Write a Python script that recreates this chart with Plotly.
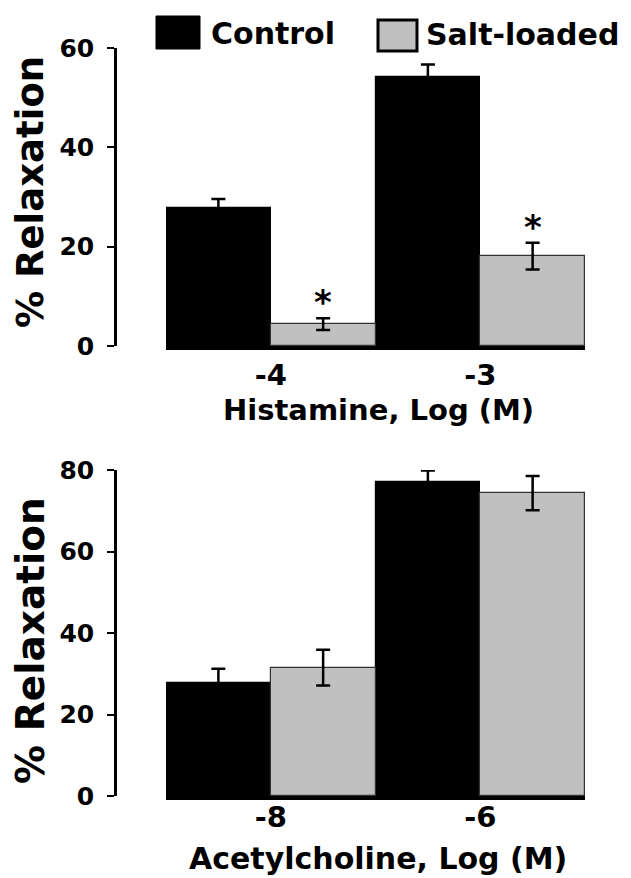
import plotly.graph_objects as go

W, H = 631, 878          # target picture size
OFF = 8                  # page body margin offset
FW, FH = W - OFF, H - OFF
FONT = "DejaVu Sans"

# ---- data ----
groups = ["Control", "Salt-loaded"]
hist_doses = ["-4", "-3"]
hist_control = [27.8, 54.1]
hist_control_err = [1.8, 2.6]
hist_salt = [4.4, 18.1]
hist_salt_err = [1.2, 2.7]
hist_sig = [True, True]

ach_doses = ["-8", "-6"]
ach_control = [27.8, 77.0]
ach_control_err = [3.4, 2.9]
ach_salt = [31.5, 74.3]
ach_salt_err = [4.4, 4.2]

colors = {"Control": "#000000", "Salt-loaded": "#C0C0C0"}
lines = {"Control": "#000000", "Salt-loaded": "#333333"}


def px(x):
    return (x - OFF) / FW


def py(y):
    return 1 - (y - OFF) / FH


def fnt(size):
    return dict(family=FONT, size=size, color="#000000", weight="bold")


fig = go.Figure()


def add_pair(doses, ctrl, ctrl_err, salt, salt_err, xa, ya):
    for name, vals, errs in [("Control", ctrl, ctrl_err), ("Salt-loaded", salt, salt_err)]:
        fig.add_trace(go.Bar(
            x=doses, y=vals, name=name, xaxis=xa, yaxis=ya, showlegend=False,
            marker=dict(color=colors[name], line=dict(color=lines[name], width=1.2)),
            error_y=dict(type="data", array=errs, color="#000000", thickness=2.5, width=7),
        ))


add_pair(hist_doses, hist_control, hist_control_err, hist_salt, hist_salt_err, "x", "y")
add_pair(ach_doses, ach_control, ach_control_err, ach_salt, ach_salt_err, "x2", "y2")

xcommon = dict(type="category", range=[-0.5, 1.5], showline=True, linecolor="#000000",
               linewidth=3.5, ticks="", showgrid=False, zeroline=False, tickfont=fnt(29),
               automargin=False)
ycommon = dict(showline=True, linecolor="#000000", linewidth=2.5, ticks="outside",
               ticklen=7, tickwidth=2, tickcolor="#000000", showgrid=False, zeroline=False,
               tickfont=fnt(25), anchor="free", position=px(115), ticklabelstandoff=8,
               automargin=False)

fig.update_layout(
    width=FW, height=FH, margin=dict(l=0, r=0, t=0, b=0, autoexpand=False),
    paper_bgcolor="white", plot_bgcolor="white",
    barmode="group", bargap=0, bargroupgap=0,
    xaxis=dict(domain=[px(166), px(585)], anchor="y", ticklabelstandoff=0, **xcommon),
    yaxis=dict(domain=[py(346), py(48)], range=[0, 60], tickvals=[0, 20, 40, 60], **ycommon),
    xaxis2=dict(domain=[px(166), px(585)], anchor="y2", ticklabelstandoff=-8, **xcommon),
    yaxis2=dict(domain=[py(796), py(470)], range=[0, 80], tickvals=[0, 20, 40, 60, 80], **ycommon),
)

# significance asterisks above Salt-loaded bars
for i, (v, e, s) in enumerate(zip(hist_salt, hist_salt_err, hist_sig)):
    if s:
        fig.add_annotation(x=i + 0.25, y=v + e, xref="x", yref="y", text="*", showarrow=False,
                           yanchor="bottom", yshift=-6, font=fnt(34))

# axis titles
fig.add_annotation(x=px(378), y=py(410), xref="paper", yref="paper", text="Histamine, Log (M)",
                   showarrow=False, font=fnt(29), xanchor="center", yanchor="middle")
fig.add_annotation(x=px(378), y=py(858), xref="paper", yref="paper", text="Acetylcholine, Log (M)",
                   showarrow=False, font=fnt(30), xanchor="center", yanchor="middle")
fig.add_annotation(x=px(30), y=py(192), xref="paper", yref="paper", text="% Relaxation",
                   textangle=-90, showarrow=False, font=fnt(37),
                   xanchor="center", yanchor="middle")
fig.add_annotation(x=px(30), y=py(641), xref="paper", yref="paper", text="% Relaxation",
                   textangle=-90, showarrow=False, font=fnt(39),
                   xanchor="center", yanchor="middle")

# legend (drawn manually to match large swatches)
fig.add_shape(type="rect", xref="paper", yref="paper", x0=px(156), x1=px(200), y0=py(49), y1=py(16),
              fillcolor=colors["Control"], line=dict(color="#000000", width=1))
fig.add_annotation(x=px(209), y=py(33), xref="paper", yref="paper", text="Control", showarrow=False,
                   xanchor="left", yanchor="middle", font=fnt(30))
fig.add_shape(type="rect", xref="paper", yref="paper", x0=px(378), x1=px(417), y0=py(51), y1=py(20),
              fillcolor=colors["Salt-loaded"], line=dict(color="#000000", width=3))
fig.add_annotation(x=px(424), y=py(35), xref="paper", yref="paper", text="Salt-loaded", showarrow=False,
                   xanchor="left", yanchor="middle", font=fnt(30))

fig.write_html("out.html")
